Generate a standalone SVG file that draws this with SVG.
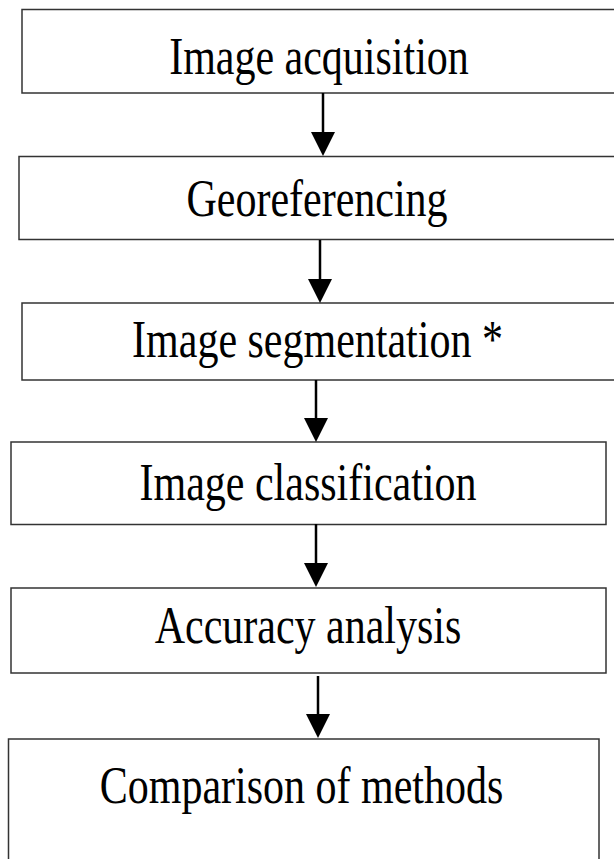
<svg xmlns="http://www.w3.org/2000/svg" width="614" height="859" viewBox="0 0 614 859">
<style>
.box{fill:#fff;stroke:#333;stroke-width:1.5}
.lbl{font-family:"Liberation Serif","Times New Roman",serif;font-size:42px;fill:#000;text-anchor:middle}
.conn{stroke:#000;stroke-width:2.5;fill:none}
</style>
<defs>
<marker id="ah" markerUnits="userSpaceOnUse" viewBox="0 0 24 24" refX="12" refY="24" markerWidth="24" markerHeight="24" orient="auto-start-reverse">
<path d="M0,0 L24,0 L12,24 Z" fill="#000"/>
</marker>
</defs>
<rect width="614" height="859" fill="#fff"/>
<g id="n1"><rect class="box" x="22" y="9.5" width="600" height="83.5"/><text class="lbl" transform="translate(319,74) scale(1,1.25)">Image acquisition</text></g>
<g id="n2"><rect class="box" x="19" y="156.5" width="600" height="83"/><text class="lbl" transform="translate(317,216) scale(1,1.25)">Georeferencing</text></g>
<g id="n3"><rect class="box" x="22" y="303" width="600" height="77"/><text class="lbl" transform="translate(317.5,357) scale(1,1.25)">Image segmentation  *</text></g>
<g id="n4"><rect class="box" x="11" y="442" width="595" height="82.5"/><text class="lbl" transform="translate(308,500) scale(1,1.25)">Image classification</text></g>
<g id="n5"><rect class="box" x="11" y="588" width="595" height="85"/><text class="lbl" transform="translate(308,643) scale(1,1.25)">Accuracy analysis</text></g>
<g id="n6"><rect class="box" x="8.5" y="739" width="590.5" height="130"/><text class="lbl" transform="translate(301.5,803) scale(1,1.25)">Comparison of methods</text></g>
<g id="connectors">
<line class="conn" x1="323" y1="93" x2="323" y2="132"/><path d="M311,132 L335,132 L323,156 Z"/>
<line class="conn" x1="320" y1="240" x2="320" y2="279"/><path d="M308,279 L332,279 L320,303 Z"/>
<line class="conn" x1="316" y1="380" x2="316" y2="418"/><path d="M304,418 L328,418 L316,442 Z"/>
<line class="conn" x1="316" y1="524" x2="316" y2="563"/><path d="M304,563 L328,563 L316,587 Z"/>
<line class="conn" x1="318" y1="676" x2="318" y2="714"/><path d="M306,714 L330,714 L318,738 Z"/>
</g>
</svg>
